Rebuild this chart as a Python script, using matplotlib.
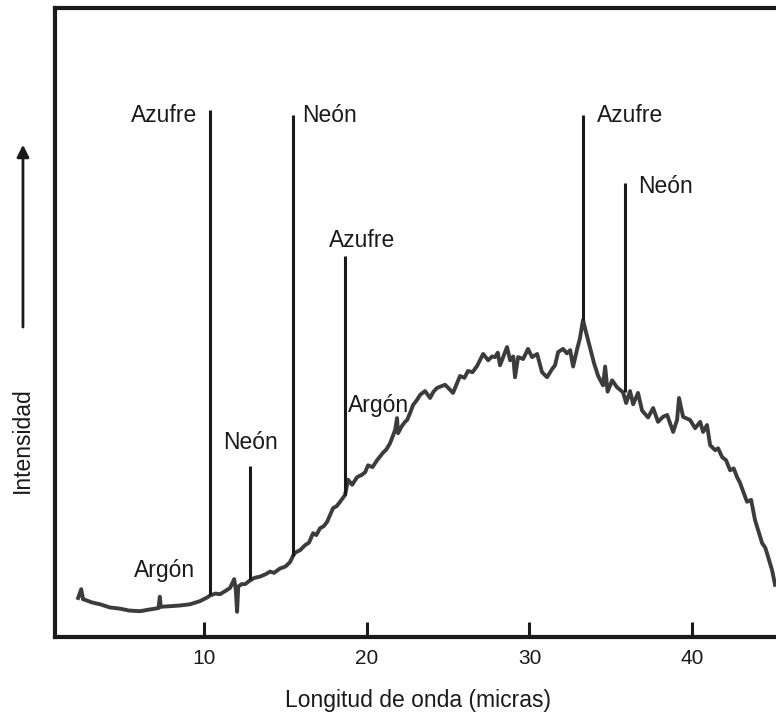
import matplotlib
matplotlib.use("Agg")
import matplotlib.pyplot as plt

plt.rcParams.update({
    "font.family": ["Liberation Sans", "DejaVu Sans"],
})

# spectrum trace (wavelength in microns, relative intensity)
wave = [2.26, 2.45, 2.56, 2.69, 3.1, 3.61, 4.2, 4.84, 5.4, 6.07,
        6.5, 6.99, 7.20, 7.28, 7.34, 7.91, 8.5, 9.14, 9.75, 10.2,
        10.37, 10.7, 10.98, 11.3, 11.60, 11.85, 11.95, 12.03, 12.10, 12.3,
        12.52, 12.83, 13.1, 13.44, 13.8, 14.06, 14.3, 14.67, 15.0, 15.28,
        15.47, 15.59, 15.90, 16.21, 16.45, 16.70, 16.9, 17.13, 17.35, 17.56,
        17.93, 18.15, 18.36, 18.67, 18.85, 19.10, 19.40, 19.71, 19.9, 20.08,
        20.35, 20.63, 21.00, 21.2, 21.43, 21.74, 21.86, 21.92, 22.15, 22.35,
        22.48, 22.66, 22.85, 23.09, 23.28, 23.58, 23.89, 24.1, 24.32, 24.81,
        25.12, 25.30, 25.73, 26.0, 26.22, 26.5, 26.78, 27.15, 27.46, 27.7,
        27.89, 28.05, 28.19, 28.38, 28.62, 28.81, 29.0, 29.11, 29.30, 29.61,
        29.91, 30.16, 30.47, 30.77, 31.08, 31.39, 31.57, 31.76, 32.06, 32.30,
        32.50, 32.68, 32.93, 33.10, 33.29, 33.47, 33.72, 33.97, 34.22, 34.52,
        34.65, 34.80, 35.08, 35.38, 35.75, 35.94, 36.18, 36.37, 36.67, 36.92,
        37.29, 37.60, 37.90, 38.20, 38.46, 38.83, 39.07, 39.19, 39.44, 39.87,
        40.18, 40.49, 40.67, 40.91, 41.10, 41.41, 41.59, 41.84, 42.08, 42.33,
        42.55, 42.76, 42.94, 43.15, 43.37, 43.62, 43.86, 44.05, 44.30, 44.49,
        44.67, 44.92, 45.09]
intensity = [6.2, 7.6, 6.0, 5.9, 5.5, 5.2, 4.7, 4.5, 4.2, 4.1,
             4.3, 4.5, 4.6, 6.4, 4.8, 4.9, 5.0, 5.2, 5.7, 6.3,
             6.6, 6.9, 6.8, 7.3, 7.8, 9.2, 7.5, 4.0, 8.0, 8.4,
             8.4, 9.0, 9.4, 9.6, 10.0, 10.4, 10.2, 10.9, 11.2, 11.9,
             12.9, 13.4, 13.8, 14.6, 15.0, 16.5, 16.2, 17.3, 17.6, 18.3,
             20.5, 20.8, 21.5, 22.6, 25.0, 24.2, 25.4, 25.8, 26.2, 27.3,
             27.0, 28.1, 29.3, 29.8, 30.8, 32.9, 34.8, 32.4, 33.5, 34.2,
             34.5, 35.6, 36.9, 37.7, 38.5, 39.1, 38.0, 39.0, 39.6, 40.1,
             39.3, 38.8, 41.5, 41.2, 42.3, 42.1, 43.1, 45.0, 44.0, 44.6,
             44.5, 45.2, 43.2, 44.5, 46.1, 44.0, 44.6, 41.3, 44.5, 44.2,
             45.8, 44.5, 45.0, 42.1, 41.3, 42.6, 43.2, 45.3, 45.8, 45.1,
             45.6, 43.0, 45.8, 47.5, 50.4, 48.5, 46.0, 43.5, 41.5, 40.0,
             43.0, 39.0, 40.8, 39.7, 38.9, 37.2, 39.1, 37.0, 38.8, 36.0,
             34.9, 36.4, 34.2, 35.0, 35.3, 32.6, 34.5, 38.0, 35.0, 34.5,
             33.2, 34.2, 32.6, 33.7, 30.5, 29.7, 30.0, 28.6, 28.1, 26.5,
             26.8, 25.4, 24.5, 23.0, 21.5, 21.8, 18.6, 17.0, 14.9, 14.2,
             12.7, 10.5, 8.3]

# marker lines: position, bottom, top
line_x = [10.37, 12.83, 15.47, 18.64, 33.29, 35.88]
line_bottom = [6.6, 9.0, 12.9, 22.6, 50.4, 38.9]
line_top = [83.8, 27.2, 83.0, 60.6, 83.0, 72.2]

# element labels: text, x, y (baseline), alignment
label_text = ["Azufre", "Neón", "Azufre", "Neón", "Argón", "Argón", "Azufre", "Neón"]
label_x = [9.6, 16.02, 19.70, 12.83, 7.54, 20.70, 34.16, 36.67]
label_y = [81.9, 81.9, 62.0, 29.9, 9.5, 35.8, 81.9, 70.6]
label_ha = ["right", "left", "center", "center", "center", "center", "left", "left"]

ticks = [10, 20, 30, 40]

fig = plt.figure(figsize=(7.76, 7.17), dpi=100)
ax = fig.add_axes([0.0709, 0.1116, 0.9291, 0.8772])

ax.plot(wave, intensity, color="#3c3c3c", lw=2.8, solid_joinstyle="round")
ax.vlines(line_x, line_bottom, line_top, color="#1a1a1a", lw=2.2)

for t, x, y, ha in zip(label_text, label_x, label_y, label_ha):
    ax.text(x, y, t, ha=ha, va="baseline", fontsize=16.5, color="#1a1a1a")

ax.set_xlim(0.84, 45.15)
ax.set_ylim(0, 100)
ax.set_xticks(ticks)
ax.set_xticklabels([str(t) for t in ticks])
ax.set_yticks([])
ax.tick_params(axis="x", direction="in", length=10.5, width=2.2, pad=9,
               labelsize=15, colors="#1a1a1a")
for side in ["left", "bottom", "top"]:
    ax.spines[side].set_linewidth(3)
    ax.spines[side].set_color("#1a1a1a")
ax.spines["right"].set_visible(False)

fig.text(0.539, 0.014, "Longitud de onda (micras)", ha="center", va="baseline",
         fontsize=16.5, color="#1a1a1a")
fig.text(0.029, 0.386, "Intensidad", rotation=90, ha="center", va="center",
         fontsize=16.5, color="#1a1a1a")
fig.patches.append(matplotlib.patches.FancyArrowPatch(
    (0.0296, 0.540), (0.0296, 0.802), transform=fig.transFigure,
    arrowstyle="-|>", mutation_scale=18, lw=2, color="#1a1a1a"))

fig.savefig("out.png", dpi=100)
